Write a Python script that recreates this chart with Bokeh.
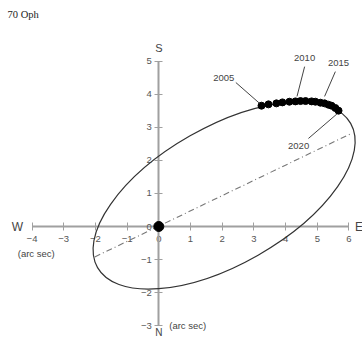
from bokeh.plotting import figure
from bokeh.models import LinearAxis, FixedTicker, Label
from bokeh.core.properties import value
from bokeh.embed import file_html
from bokeh.resources import INLINE

# Apparent orbit of 70 Oph B around A (arc seconds): centre, full axes, tilt (radians)
orbit_center_x = 2.06
orbit_center_y = 0.937
orbit_width = 9.19
orbit_height = 4.15
orbit_angle = 0.518

# Line through the primary
line_x = [-2.02, 6.05]
line_y = [-0.92, 2.80]

# Positions of the companion, one per year 2005..2020
years = list(range(2005, 2021))
years_x = [3.24, 3.46, 3.71, 3.90, 4.12, 4.31, 4.47, 4.63, 4.82, 4.94, 5.10, 5.23, 5.35, 5.45, 5.57, 5.67]
years_y = [3.65, 3.69, 3.72, 3.75, 3.77, 3.78, 3.79, 3.79, 3.78, 3.77, 3.74, 3.72, 3.68, 3.65, 3.58, 3.50]

# Tick values
x_ticks = [-4, -3, -2, -1, 0, 1, 2, 3, 4, 5, 6]
y_ticks = [-3, -2, -1, 0, 1, 2, 3, 4, 5]

# Labelled epochs: text, label anchor, leader line (from, to)
callouts = [
    ("2005", 2.05, 4.50, (2.43, 4.35), (3.18, 3.72)),
    ("2010", 4.60, 5.08, (4.60, 4.83), (4.36, 3.93)),
    ("2015", 5.67, 4.95, (5.57, 4.68), (5.23, 3.93)),
    ("2020", 4.41, 2.42, (4.72, 2.66), (5.62, 3.40)),
]

FONT = "Liberation Sans"

p = figure(width=362, height=339, x_range=(-4.994, 6.426), y_range=(-3.414, 6.828),
           min_border=0, toolbar_location=None, output_backend="svg",
           x_axis_type=None, y_axis_type=None)
p.grid.visible = False
p.outline_line_color = None
p.background_fill_color = "white"

xa = LinearAxis(fixed_location=0, bounds=(-4, 6), ticker=FixedTicker(ticks=x_ticks), level="underlay")
ya = LinearAxis(fixed_location=0, bounds=(-3, 5), ticker=FixedTicker(ticks=y_ticks), level="underlay")
for a in (xa, ya):
    a.major_tick_in = 4
    a.major_tick_out = 4
    a.minor_tick_line_color = None
    a.axis_line_color = "#a0a0a0"
    a.axis_line_width = 2
    a.major_tick_line_color = "#a0a0a0"
    a.major_tick_line_width = 1
    a.major_label_text_font = FONT
    a.major_label_text_font_size = "9.5px"
    a.major_label_text_color = "#555555"
xa.major_label_standoff = 5
ya.major_label_standoff = 3
p.add_layout(xa, "below")
p.add_layout(ya, "left")

# orbit and line
p.ellipse(x=orbit_center_x, y=orbit_center_y, width=orbit_width, height=orbit_height,
          angle=orbit_angle, fill_color=None, line_color="#333333", line_width=1.2)
p.line(line_x, line_y, line_color="#777777", line_width=1.1, line_dash="6 3 1 3")

# primary star at the origin
p.scatter([0], [0], size=10, color="black")

# yearly positions
p.scatter(years_x, years_y, size=7, color="black")

# callouts
for text, lx, ly, (x1, y1), (x2, y2) in callouts:
    p.segment(x0=[x1], y0=[y1], x1=[x2], y1=[y2], line_color="#444444", line_width=1)
    p.text([lx], [ly], text=[text], text_font=value(FONT), text_font_size="9.5px",
           text_color="#444444", text_align="center", text_baseline="middle")

def lab(x, y, t, size, align="center", baseline="middle", font=FONT, color="#444444", units="data"):
    p.add_layout(Label(x=x, y=y, x_units=units, y_units=units, text=t, text_font=font,
                       text_font_size=size, text_color=color, text_align=align,
                       text_baseline=baseline))

lab(0.0, 5.38, "S", "11px")
lab(0.0, -3.38, "N", "10px", baseline="bottom")
lab(-4.46, 0.0, "W", "12px")
lab(6.19, 0.0, "E", "12px", align="left")
lab(-4.45, -0.82, "(arc sec)", "9.5px", align="left")
lab(0.33, -3.0, "(arc sec)", "9.5px", align="left")
lab(7, 325, "70 Oph", "10.5px", align="left", baseline="middle",
    font="Liberation Serif", color="#222222", units="screen")

open("out.html", "w").write(file_html(p, INLINE))
